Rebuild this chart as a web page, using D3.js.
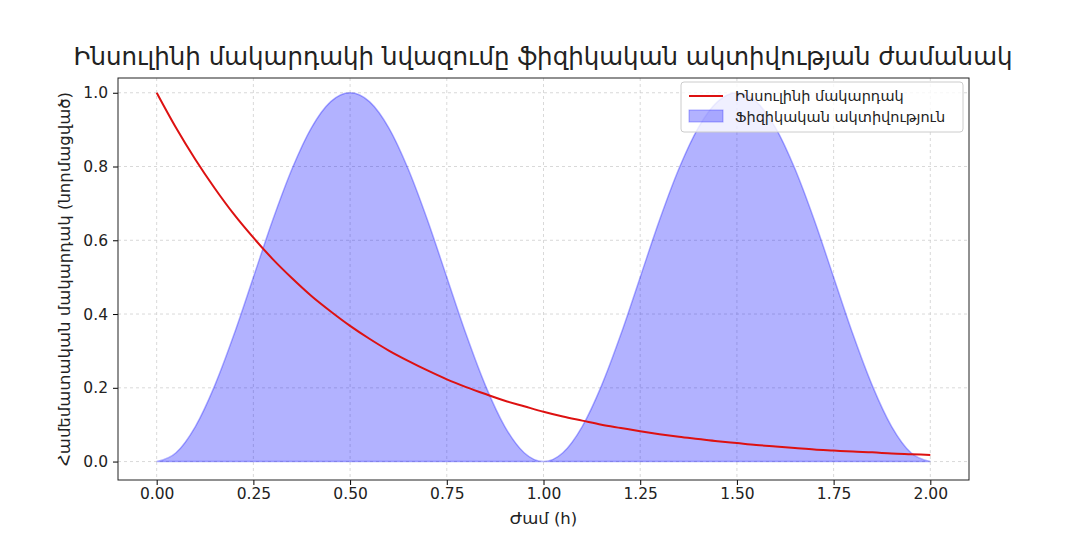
<!DOCTYPE html>
<html><head><meta charset="utf-8">
<script src="https://cdn.jsdelivr.net/npm/d3@7"></script>
<style>body{margin:0;background:#fff;font-family:"DejaVu Sans",sans-serif}</style>
</head><body><svg id="c" width="1074" height="560"></svg>
<script>
const times = d3.range(41).map(i => +(i * 0.05).toFixed(2));
const insulin = [1, .905, .819, .741, .670, .607, .549, .497, .449, .407, .368, .333, .301, .273, .247, .223, .202, .183, .165, .150, .135,
  .122, .111, .100, .091, .082, .074, .067, .061, .055, .050, .045, .041, .037, .033, .030, .027, .025, .022, .020, .018];
const activity = [0, .024, .095, .206, .345, .5, .655, .794, .905, .976, 1, .976, .905, .794, .655, .5, .345, .206, .095, .024, 0,
  .024, .095, .206, .345, .5, .655, .794, .905, .976, 1, .976, .905, .794, .655, .5, .345, .206, .095, .024, 0];
const xTicks = [0, 0.25, 0.5, 0.75, 1, 1.25, 1.5, 1.75, 2];
const yTicks = [0, 0.2, 0.4, 0.6, 0.8, 1.0];
const labels = {
  title: "Ինսուլինի մակարդակի նվազումը ֆիզիկական ակտիվության ժամանակ",
  x: "Ժամ (h)",
  y: "Համեմատական մակարդակ (նորմացված)",
  insulin: "Ինսուլինի մակարդակ",
  activity: "Ֆիզիկական ակտիվություն"
};

const svg = d3.select("#c");
const L = 118, R = 969, T = 78, B = 480;
const x = d3.scaleLinear().domain([-0.1, 2.1]).range([L, R]);
const y = d3.scaleLinear().domain([-0.05, 1.04]).range([B, T]);

const grid = svg.append("g").attr("stroke", "#cfcfcf").attr("stroke-dasharray", "3,3").attr("stroke-width", 0.8);
xTicks.forEach(t => grid.append("line").attr("x1", x(t)).attr("x2", x(t)).attr("y1", T).attr("y2", B));
yTicks.forEach(t => grid.append("line").attr("x1", L).attr("x2", R).attr("y1", y(t)).attr("y2", y(t)));

const area = d3.area().x((d, i) => x(times[i])).y0(y(0)).y1(d => y(d)).curve(d3.curveMonotoneX);
svg.append("path").datum(activity).attr("d", area)
  .attr("fill", "rgba(0,0,255,0.3)").attr("stroke", "rgba(0,0,255,0.3)").attr("stroke-width", 1.5);

const line = d3.line().x((d, i) => x(times[i])).y(d => y(d)).curve(d3.curveMonotoneX);
svg.append("path").datum(insulin).attr("d", line).attr("fill", "none").attr("stroke", "#dd1111").attr("stroke-width", 2);

const xa = svg.append("g").attr("transform", `translate(0,${B})`)
  .call(d3.axisBottom(x).tickValues(xTicks).tickFormat(d3.format(".2f")).tickSize(5));
const ya = svg.append("g").attr("transform", `translate(${L},0)`)
  .call(d3.axisLeft(y).tickValues(yTicks).tickFormat(d3.format(".1f")).tickSize(5));
[xa, ya].forEach(a => { a.selectAll("text").attr("font-size", 15.5).attr("fill", "#222").attr("font-family", "DejaVu Sans"); a.select(".domain").remove(); });
ya.selectAll("text").attr("dx", "-2");
svg.append("rect").attr("x", L).attr("y", T).attr("width", R - L).attr("height", B - T)
  .attr("fill", "none").attr("stroke", "#222").attr("stroke-width", 1);

svg.append("text").attr("x", 543).attr("y", 65).attr("text-anchor", "middle").attr("font-size", 24.5).attr("fill", "#222").text(labels.title);
svg.append("text").attr("x", (L + R) / 2).attr("y", 524).attr("text-anchor", "middle").attr("font-size", 16.5).attr("fill", "#222").text(labels.x);
svg.append("text").attr("transform", `translate(70,${(T + B) / 2}) rotate(-90)`).attr("text-anchor", "middle").attr("font-size", 16.5).attr("fill", "#222").text(labels.y);

const lg = svg.append("g").attr("transform", "translate(681,82)");
lg.append("rect").attr("width", 282).attr("height", 50).attr("rx", 3).attr("fill", "rgba(255,255,255,0.8)").attr("stroke", "#ccc");
lg.append("line").attr("x1", 8).attr("x2", 42).attr("y1", 14).attr("y2", 14).attr("stroke", "#dd1111").attr("stroke-width", 2);
lg.append("rect").attr("x", 8).attr("y", 28).attr("width", 34).attr("height", 12).attr("fill", "rgba(0,0,255,0.3)").attr("stroke", "rgba(0,0,255,0.3)");
lg.append("text").attr("x", 54).attr("y", 19).attr("font-size", 14.5).attr("fill", "#222").text(labels.insulin);
lg.append("text").attr("x", 54).attr("y", 40).attr("font-size", 14.5).attr("fill", "#222").text(labels.activity);
</script></body></html>
